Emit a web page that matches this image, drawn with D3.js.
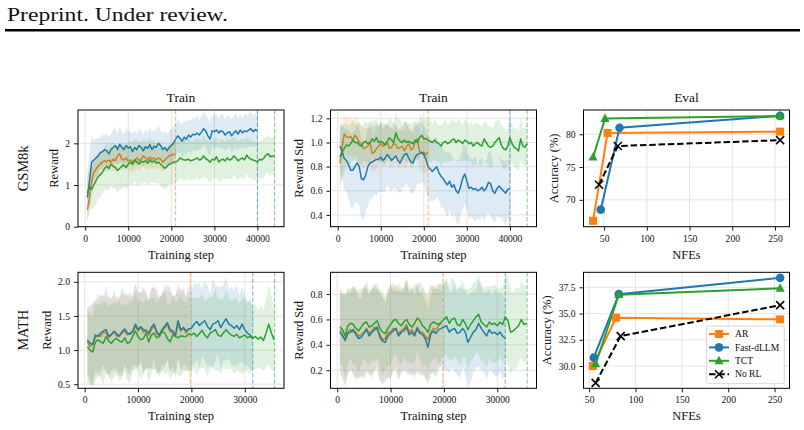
<!DOCTYPE html>
<html>
<head>
<meta charset="utf-8">
<script src="https://cdn.jsdelivr.net/npm/d3@7"></script>
<style>
  body { margin: 0; background: #fff; }
  svg { display: block; }
  text { font-family: "Liberation Serif", "Times New Roman", serif; fill: #111; }
</style>
</head>
<body>
<svg id="fig" width="804" height="430"></svg>
<script>
// training curves: one value every 500 steps, first point at step 500
const STEP = 500;
const START = 500;

// GSM8k, reward
const gsmRewardFast = [0.7,1.1,1.55,1.6,1.65,1.7,1.78,1.8,1.85,1.82,
  1.75,1.85,1.9,1.95,1.85,1.98,1.9,1.85,1.95,1.88,
  1.92,1.8,1.9,1.85,1.95,1.9,1.82,1.92,1.88,1.97,
  1.85,1.93,1.9,2.0,1.95,1.85,1.9,1.82,1.9,1.95,
  2.0,2.1,2.18,2.12,2.05,2.15,2.1,2.2,2.15,2.22,
  2.2,2.25,2.2,2.27,2.35,2.3,2.18,2.1,2.3,2.28,
  2.32,2.25,2.3,2.28,2.2,2.25,2.28,2.18,2.25,2.3,
  2.22,2.32,2.25,2.3,2.28,2.32,2.35,2.28,2.33,2.3];
const gsmRewardFastStd = [0.6,0.7,0.6,0.5,0.45,0.42,0.38,0.4,0.36,0.42,0.4,0.38,0.44,0.4,0.37,0.42,0.39,0.36,0.41,0.4,
  0.38,0.43,0.4,0.37,0.42,0.4,0.38,0.41,0.36,0.4,0.43,0.38,0.4,0.42,0.37,0.4,0.39,0.42,0.38,0.4,
  0.41,0.38,0.4,0.36,0.42,0.39,0.4,0.37,0.41,0.38,0.4,0.42,0.36,0.39,0.41,0.38,0.43,0.4,0.37,0.41,
  0.39,0.36,0.4,0.42,0.38,0.4,0.37,0.41,0.39,0.42,0.38,0.4,0.36,0.41,0.39,0.4,0.42,0.38,0.4,0.39];
const gsmRewardAR = [0.4,0.7,1.1,1.3,1.38,1.45,1.5,1.55,1.58,1.56,
  1.6,1.55,1.62,1.58,1.7,1.75,1.62,1.6,1.65,1.58,
  1.6,1.55,1.6,1.65,1.58,1.62,1.7,1.65,1.6,1.67,
  1.62,1.65,1.6,1.65,1.62,1.55,1.6,1.65,1.7,1.72,
  1.73,1.75];
const gsmRewardARStd = [0.3,0.35,0.35,0.3,0.28,0.27,0.25,0.26,0.24,0.27,0.25,0.23,0.26,0.25,0.24,0.27,0.25,0.23,0.26,0.24,
  0.25,0.27,0.24,0.26,0.25,0.23,0.26,0.24,0.25,0.27,0.24,0.26,0.23,0.25,0.26,0.24,0.25,0.23,0.26,0.24,0.25,0.24];
const gsmRewardTCT = [0.8,0.95,0.9,1.0,1.1,1.2,1.25,1.3,1.4,1.45,
  1.4,1.5,1.45,1.42,1.35,1.4,1.45,1.48,1.42,1.5,
  1.55,1.5,1.6,1.55,1.5,1.57,1.55,1.58,1.52,1.6,
  1.55,1.58,1.52,1.55,1.5,1.45,1.4,1.45,1.5,1.52,
  1.55,1.55,1.58,1.65,1.62,1.6,1.6,1.62,1.58,1.6,
  1.62,1.65,1.6,1.62,1.7,1.63,1.6,1.55,1.62,1.6,
  1.68,1.55,1.6,1.62,1.58,1.65,1.6,1.62,1.7,1.65,
  1.58,1.62,1.65,1.6,1.72,1.65,1.62,1.6,1.58,1.55,
  1.62,1.6,1.65,1.72,1.75,1.68,1.7,1.68];
const gsmRewardTCTStd = [0.4,0.45,0.5,0.55,0.55,0.52,0.55,0.5,0.53,0.55,0.5,0.52,0.55,0.5,0.53,0.5,0.55,0.52,0.5,0.54,
  0.5,0.53,0.5,0.55,0.52,0.5,0.53,0.5,0.52,0.55,0.5,0.52,0.48,0.5,0.53,0.5,0.52,0.5,0.48,0.5,
  0.52,0.5,0.47,0.5,0.48,0.52,0.46,0.5,0.48,0.45,0.5,0.47,0.49,0.45,0.5,0.48,0.46,0.5,0.47,0.45,
  0.49,0.46,0.5,0.47,0.44,0.48,0.46,0.5,0.45,0.47,0.49,0.45,0.48,0.46,0.44,0.48,0.45,0.47,0.46,0.43,
  0.47,0.45,0.48,0.44,0.46,0.45,0.43,0.45];

// GSM8k, reward std
const gsmStdFast = [0.97,0.93,0.87,0.85,0.82,0.77,0.77,0.8,0.83,0.8,
  0.7,0.69,0.73,0.8,0.83,0.84,0.85,0.86,0.86,0.88,
  0.85,0.87,0.9,0.88,0.85,0.87,0.89,0.85,0.83,0.87,
  0.9,0.91,0.87,0.84,0.83,0.88,0.9,0.91,0.92,0.9,
  0.86,0.8,0.78,0.76,0.78,0.8,0.75,0.72,0.7,0.67,
  0.65,0.68,0.63,0.65,0.6,0.58,0.63,0.7,0.74,0.68,
  0.62,0.63,0.61,0.62,0.6,0.61,0.63,0.6,0.62,0.67,
  0.66,0.6,0.58,0.62,0.64,0.62,0.6,0.58,0.61,0.62];
const gsmStdFastStd = [0.2,0.22,0.25,0.26,0.28,0.3,0.32,0.3,0.33,0.31,0.34,0.32,0.3,0.33,0.29,0.31,0.28,0.3,0.27,0.29,
  0.26,0.28,0.25,0.27,0.26,0.24,0.27,0.25,0.26,0.24,0.27,0.25,0.24,0.26,0.25,0.27,0.24,0.26,0.25,0.24,
  0.26,0.25,0.27,0.24,0.26,0.25,0.23,0.26,0.24,0.25,0.27,0.24,0.26,0.23,0.25,0.27,0.24,0.26,0.25,0.23,
  0.26,0.24,0.25,0.27,0.23,0.25,0.24,0.26,0.23,0.25,0.27,0.24,0.25,0.23,0.26,0.24,0.25,0.27,0.24,0.25];
const gsmStdAR = [0.83,0.95,1.07,1.05,1.04,1.05,1.02,1.06,1.04,1.0,
  0.98,0.95,0.96,0.97,1.0,0.91,0.92,0.95,0.97,0.99,
  0.97,0.98,1.0,0.95,0.96,0.99,0.98,0.95,0.96,0.97,
  0.93,0.97,0.99,0.94,0.95,1.01,1.03,0.93,0.91,0.92,
  0.9,0.92];
const gsmStdARStd = [0.23,0.2,0.16,0.15,0.17,0.16,0.15,0.17,0.16,0.18,0.15,0.17,0.16,0.15,0.17,0.16,0.15,0.18,0.16,0.15,
  0.17,0.16,0.15,0.17,0.16,0.18,0.15,0.16,0.17,0.15,0.16,0.18,0.15,0.17,0.16,0.15,0.17,0.16,0.15,0.16,0.17,0.15];
const gsmStdTCT = [0.88,0.92,0.95,0.98,0.97,0.99,1.02,1.0,1.0,0.98,
  0.97,1.0,1.01,0.99,1.0,1.03,1.01,1.04,1.0,1.01,
  1.0,0.98,1.01,1.04,1.02,1.0,1.08,1.03,1.01,1.0,
  1.02,1.0,1.01,1.0,0.99,1.02,1.0,1.04,1.06,1.03,
  1.03,1.02,1.01,1.0,1.02,1.0,0.99,0.97,1.0,1.01,
  0.99,1.0,1.02,1.03,1.0,1.02,1.01,0.99,1.02,1.01,
  0.99,1.0,0.97,0.99,1.0,0.98,0.97,1.03,1.0,0.97,
  0.96,0.97,1.0,1.02,1.04,0.98,0.95,0.94,0.97,1.04,
  0.99,0.96,0.95,0.93,1.03,0.97,0.96,0.99];
const gsmStdTCTStd = [0.25,0.22,0.2,0.18,0.17,0.16,0.17,0.15,0.16,0.18,0.16,0.15,0.17,0.16,0.18,0.15,0.17,0.16,0.15,0.17,
  0.16,0.18,0.15,0.17,0.16,0.15,0.17,0.16,0.18,0.15,0.16,0.17,0.15,0.16,0.18,0.16,0.15,0.17,0.16,0.15,
  0.17,0.16,0.18,0.15,0.17,0.16,0.15,0.17,0.16,0.18,0.15,0.16,0.17,0.15,0.16,0.18,0.16,0.15,0.17,0.16,
  0.15,0.17,0.16,0.18,0.15,0.17,0.16,0.15,0.17,0.16,0.18,0.15,0.16,0.17,0.15,0.16,0.18,0.16,0.15,0.17,
  0.16,0.15,0.17,0.16,0.18,0.15,0.16,0.17];

// MATH, reward
const mathRewardFast = [1.15,1.1,1.08,1.22,1.2,1.25,1.28,1.3,1.2,1.23,
  1.27,1.24,1.2,1.27,1.31,1.25,1.23,1.28,1.38,1.3,
  1.34,1.3,1.28,1.25,1.33,1.38,1.27,1.22,1.3,1.35,
  1.4,1.3,1.28,1.22,1.43,1.3,1.33,1.28,1.31,1.32,
  1.38,1.42,1.36,1.4,1.43,1.35,1.3,1.38,1.4,1.43,
  1.33,1.4,1.46,1.38,1.36,1.32,1.36,1.3,1.38,1.3,
  1.25,1.22,1.17];
const mathRewardFastStd = [0.5,0.55,0.6,0.5,0.62,0.55,0.5,0.65,0.55,0.52,0.6,0.5,0.58,0.65,0.52,0.55,0.62,0.5,0.6,0.55,
  0.5,0.62,0.56,0.5,0.6,0.52,0.63,0.55,0.5,0.6,0.55,0.62,0.5,0.58,0.52,0.6,0.55,0.5,0.62,0.56,
  0.6,0.55,0.62,0.5,0.58,0.6,0.52,0.65,0.55,0.5,0.6,0.55,0.62,0.5,0.58,0.55,0.6,0.5,0.55,0.52,
  0.48,0.5,0.45];
const mathRewardAR = [1.12,1.05,1.1,1.18,1.22,1.2,1.26,1.25,1.18,1.22,
  1.28,1.2,1.22,1.25,1.28,1.22,1.25,1.26,1.35,1.28,
  1.33,1.26,1.3,1.22,1.3,1.35,1.25,1.2,1.28,1.32,
  1.37,1.27,1.25,1.2,1.38,1.28,1.32,1.25,1.3];
const mathRewardARStd = [0.5,0.55,0.6,0.55,0.5,0.6,0.56,0.52,0.62,0.55,0.5,0.6,0.55,0.58,0.52,0.6,0.5,0.56,0.62,0.55,
  0.52,0.6,0.55,0.5,0.58,0.62,0.55,0.52,0.6,0.55,0.5,0.58,0.55,0.6,0.52,0.56,0.6,0.55,0.58];
const mathRewardTCT = [1.05,1.0,0.97,1.12,1.15,1.12,1.1,1.2,1.13,1.1,
  1.15,1.17,1.13,1.12,1.18,1.1,1.12,1.2,1.28,1.2,
  1.15,1.17,1.25,1.12,1.22,1.25,1.18,1.2,1.27,1.25,
  1.17,1.12,1.22,1.2,1.18,1.21,1.2,1.2,1.24,1.22,
  1.25,1.2,1.24,1.29,1.22,1.18,1.25,1.27,1.3,1.22,
  1.2,1.25,1.3,1.25,1.22,1.2,1.23,1.18,1.2,1.22,
  1.18,1.2,1.17,1.2,1.16,1.19,1.14,1.25,1.38,1.25,
  1.15];
const mathRewardTCTStd = [0.55,0.5,0.52,0.58,0.5,0.55,0.6,0.52,0.5,0.57,0.55,0.5,0.6,0.53,0.5,0.56,0.6,0.52,0.55,0.5,
  0.58,0.52,0.5,0.6,0.55,0.52,0.5,0.58,0.55,0.6,0.5,0.54,0.58,0.5,0.55,0.6,0.52,0.5,0.56,0.55,
  0.5,0.58,0.52,0.55,0.5,0.57,0.53,0.5,0.6,0.52,0.55,0.5,0.58,0.52,0.5,0.55,0.53,0.5,0.56,0.52,
  0.5,0.55,0.45,0.48,0.42,0.46,0.44,0.5,0.58,0.55,0.45];

// MATH, reward std
const mathStdFast = [0.5,0.47,0.44,0.49,0.5,0.52,0.48,0.45,0.46,0.49,
  0.52,0.47,0.5,0.52,0.54,0.46,0.43,0.42,0.47,0.49,
  0.51,0.53,0.47,0.5,0.51,0.54,0.48,0.5,0.47,0.53,
  0.49,0.48,0.45,0.38,0.48,0.51,0.49,0.52,0.53,0.54,
  0.55,0.5,0.52,0.53,0.49,0.5,0.53,0.5,0.42,0.46,
  0.5,0.52,0.57,0.53,0.5,0.47,0.52,0.49,0.5,0.48,
  0.5,0.47,0.45];
const mathStdFastStd = [0.3,0.33,0.35,0.32,0.3,0.34,0.36,0.32,0.3,0.35,0.33,0.31,0.36,0.32,0.3,0.34,0.35,0.31,0.33,0.36,
  0.32,0.3,0.35,0.33,0.31,0.36,0.32,0.34,0.3,0.35,0.33,0.31,0.3,0.3,0.3,0.33,0.35,0.32,0.3,0.34,
  0.35,0.32,0.3,0.34,0.33,0.36,0.31,0.33,0.37,0.35,0.32,0.3,0.34,0.33,0.31,0.35,0.32,0.3,0.34,0.33,
  0.31,0.33,0.3];
const mathStdAR = [0.52,0.48,0.43,0.5,0.52,0.5,0.5,0.47,0.48,0.5,
  0.53,0.49,0.51,0.54,0.52,0.48,0.44,0.45,0.5,0.5,
  0.53,0.52,0.49,0.51,0.53,0.56,0.5,0.52,0.48,0.54,
  0.5,0.5,0.47,0.44,0.5,0.53,0.52,0.55,0.57];
const mathStdARStd = [0.32,0.35,0.37,0.33,0.31,0.35,0.36,0.32,0.34,0.37,0.33,0.31,0.35,0.34,0.32,0.36,0.33,0.31,0.35,0.37,
  0.32,0.34,0.36,0.31,0.33,0.35,0.32,0.34,0.36,0.33,0.31,0.35,0.34,0.32,0.36,0.33,0.35,0.31,0.33];
const mathStdTCT = [0.54,0.52,0.47,0.55,0.57,0.56,0.53,0.51,0.54,0.57,
  0.58,0.54,0.55,0.57,0.59,0.53,0.5,0.49,0.53,0.56,
  0.59,0.6,0.57,0.55,0.58,0.6,0.56,0.54,0.57,0.61,
  0.59,0.55,0.53,0.5,0.56,0.58,0.57,0.56,0.58,0.6,
  0.62,0.57,0.6,0.61,0.56,0.55,0.6,0.57,0.52,0.56,
  0.59,0.62,0.64,0.58,0.56,0.54,0.58,0.56,0.57,0.55,
  0.58,0.56,0.62,0.59,0.5,0.51,0.53,0.55,0.6,0.56,
  0.57];
const mathStdTCTStd = [0.3,0.28,0.32,0.3,0.27,0.31,0.29,0.33,0.3,0.28,0.32,0.3,0.27,0.31,0.29,0.3,0.33,0.28,0.3,0.32,
  0.29,0.27,0.31,0.3,0.28,0.33,0.3,0.29,0.31,0.27,0.3,0.32,0.28,0.3,0.31,0.29,0.27,0.32,0.3,0.28,
  0.31,0.29,0.33,0.3,0.28,0.31,0.3,0.27,0.32,0.29,0.3,0.28,0.31,0.3,0.29,0.32,0.28,0.3,0.31,0.29,
  0.27,0.3,0.32,0.35,0.33,0.3,0.32,0.29,0.3,0.31,0.28];

// last training step of each run (dashed markers)
const gsmEnd = { ar: 21000, fast: 40000, tct: 44000 };
const mathEnd = { ar: 19800, fast: 31500, tct: 35600 };

// Eval: NFEs vs accuracy
const methods = ["AR", "Fast-dLLM", "TCT", "No RL"];
const gsmNfe = { "AR": [37, 54, 256], "Fast-dLLM": [46, 68, 256], "TCT": [37, 51, 256], "No RL": [44, 66, 256] };
const gsmAcc = { "AR": [66.8, 80.2, 80.4], "Fast-dLLM": [68.5, 81.0, 82.8], "TCT": [76.5, 82.4, 82.8], "No RL": [72.3, 78.2, 79.1] };
const mathNfe = { "AR": [54, 79, 256], "Fast-dLLM": [55, 82, 256], "TCT": [57, 82, 256], "No RL": [57, 84, 256] };
const mathAcc = { "AR": [30.0, 34.6, 34.45], "Fast-dLLM": [30.8, 36.85, 38.4], "TCT": [30.2, 36.8, 37.4], "No RL": [28.4, 32.85, 35.8] };

const trainStepTicks = [0, 10000, 20000, 30000, 40000];
const nfeTicks = [50, 100, 150, 200, 250];

const COL = { ar: "#ff7f0e", fast: "#1f77b4", tct: "#2ca02c" };
const EVAL_STYLE = {
  "AR": { color: COL.ar, marker: "square", dash: null },
  "Fast-dLLM": { color: COL.fast, marker: "circle", dash: null },
  "TCT": { color: COL.tct, marker: "triangle", dash: null },
  "No RL": { color: "#000", marker: "x", dash: "6.5,2.8" }
};

const svg = d3.select("#fig");

// page header
svg.append("text").attr("x", 7).attr("y", 21)
  .attr("textLength", 221).attr("lengthAdjust", "spacingAndGlyphs")
  .style("font-size", "19px").text("Preprint. Under review.");
svg.append("rect").attr("x", 5).attr("y", 29).attr("width", 795).attr("height", 2.5).attr("fill", "#000");

const COLX = [78, 330.5, 583.5];
const ROWY = [110, 272.3];
const PW = 206;
const PH = [116.7, 116];

let clipId = 0;
function panel(opt) {
  const g = svg.append("g").attr("transform", `translate(${opt.left},${opt.top})`);
  const x = d3.scaleLinear().domain(opt.xDomain).range([0, opt.w]);
  const y = d3.scaleLinear().domain(opt.yDomain).range([opt.h, 0]);

  // grid
  g.append("g").selectAll("line").data(opt.xTicks).join("line")
    .attr("x1", d => x(d)).attr("x2", d => x(d)).attr("y1", 0).attr("y2", opt.h)
    .attr("stroke", "#e4e4e4").attr("stroke-width", 1);
  g.append("g").selectAll("line").data(opt.yTicks).join("line")
    .attr("y1", d => y(d)).attr("y2", d => y(d)).attr("x1", 0).attr("x2", opt.w)
    .attr("stroke", "#e4e4e4").attr("stroke-width", 1);

  const id = "clip" + (clipId++);
  g.append("clipPath").attr("id", id).append("rect").attr("width", opt.w).attr("height", opt.h);
  const plot = g.append("g").attr("clip-path", `url(#${id})`);

  // axes
  const xa = g.append("g").attr("transform", `translate(0,${opt.h})`)
    .call(d3.axisBottom(x).tickValues(opt.xTicks).tickSize(4).tickPadding(4).tickFormat(d3.format("d")));
  const ya = g.append("g")
    .call(d3.axisLeft(y).tickValues(opt.yTicks).tickSize(4).tickPadding(4).tickFormat(opt.yFmt));
  [xa, ya].forEach(a => {
    a.attr("font-family", null).attr("font-size", null);
    a.select(".domain").remove();
    a.selectAll("line").attr("stroke", "#000").attr("stroke-width", 0.9);
    a.selectAll("text").style("font-size", "9.6px");
  });

  g.append("rect").attr("width", opt.w).attr("height", opt.h)
    .attr("fill", "none").attr("stroke", "#000").attr("stroke-width", 1);

  // labels
  let minX = 0;
  ya.selectAll("text").each(function () {
    const b = this.getBBox();
    minX = Math.min(minX, b.x);
  });
  g.append("text").attr("transform", `translate(${minX - 7.5},${opt.h / 2}) rotate(-90)`)
    .attr("text-anchor", "middle").style("font-size", "12.5px").text(opt.ylabel);
  g.append("text").attr("x", opt.w / 2).attr("y", opt.h + 32)
    .attr("text-anchor", "middle").style("font-size", "12.5px").text(opt.xlabel);
  if (opt.title) {
    g.append("text").attr("x", opt.w / 2).attr("y", -7.7)
      .attr("text-anchor", "middle").style("font-size", "13.5px").text(opt.title);
  }
  return { g, plot, x, y, w: opt.w, h: opt.h };
}

function runPoints(mean, std) {
  return mean.map((m, i) => ({ s: START + i * STEP, m: m, sd: std[i] }));
}

function trainPanel(p, runs, ends) {
  runs.forEach(r => {
    const pts = runPoints(r.mean, r.std);
    p.plot.append("path").datum(pts)
      .attr("d", d3.area().x(d => p.x(d.s)).y0(d => p.y(d.m - d.sd)).y1(d => p.y(d.m + d.sd)))
      .attr("fill", r.color).attr("fill-opacity", 0.15).attr("stroke", "none");
    p.plot.append("path").datum(pts)
      .attr("d", d3.line().x(d => p.x(d.s)).y(d => p.y(d.m)))
      .attr("fill", "none").attr("stroke", r.color).attr("stroke-width", 1.5)
      .attr("stroke-linejoin", "round");
  });
  runs.forEach(r => {
    p.plot.append("line")
      .attr("x1", p.x(ends[r.key])).attr("x2", p.x(ends[r.key]))
      .attr("y1", 0).attr("y2", p.h)
      .attr("stroke", r.color).attr("stroke-opacity", 0.6)
      .attr("stroke-width", 1).attr("stroke-dasharray", "4.4,1.9");
  });
}

function marker(sel, kind, color) {
  if (kind === "square") {
    sel.append("rect").attr("x", -4).attr("y", -4).attr("width", 8).attr("height", 8).attr("fill", color);
  } else if (kind === "circle") {
    sel.append("circle").attr("r", 4.3).attr("fill", color);
  } else if (kind === "triangle") {
    sel.append("path").attr("d", "M0,-5L4.6,3.4L-4.6,3.4Z").attr("fill", color);
  } else {
    sel.append("path").attr("d", "M-4,-4L4,4M-4,4L4,-4").attr("stroke", color)
      .attr("stroke-width", 1.6).attr("fill", "none");
  }
}

function evalPanel(p, nfe, acc) {
  methods.forEach(m => {
    const st = EVAL_STYLE[m];
    const pts = nfe[m].map((n, i) => [n, acc[m][i]]);
    p.plot.append("path").datum(pts)
      .attr("d", d3.line().x(d => p.x(d[0])).y(d => p.y(d[1])))
      .attr("fill", "none").attr("stroke", st.color).attr("stroke-width", 2)
      .attr("stroke-dasharray", st.dash);
    pts.forEach(d => {
      const mg = p.g.append("g").attr("transform", `translate(${p.x(d[0])},${p.y(d[1])})`);
      marker(mg, st.marker, st.color);
    });
  });
}

// row labels
[["GSM8k", 0], ["MATH", 1]].forEach(([t, r]) => {
  svg.append("text").attr("transform", `translate(28,${ROWY[r] + PH[r] / 2}) rotate(-90)`)
    .attr("text-anchor", "middle").style("font-size", "14.5px").text(t);
});

// GSM8k row
const pA = panel({ left: COLX[0], top: ROWY[0], w: PW, h: PH[0], xDomain: [-1675, 46175], yDomain: [0, 2.8],
  xTicks: trainStepTicks, yTicks: [0, 1, 2], yFmt: d3.format("d"), xlabel: "Training step", ylabel: "Reward", title: "Train" });
trainPanel(pA, [
  { key: "ar", color: COL.ar, mean: gsmRewardAR, std: gsmRewardARStd },
  { key: "fast", color: COL.fast, mean: gsmRewardFast, std: gsmRewardFastStd },
  { key: "tct", color: COL.tct, mean: gsmRewardTCT, std: gsmRewardTCTStd }
], gsmEnd);

const pB = panel({ left: COLX[1], top: ROWY[0], w: PW, h: PH[0], xDomain: [-1675, 46175], yDomain: [0.303, 1.269],
  xTicks: trainStepTicks, yTicks: [0.4, 0.6, 0.8, 1.0, 1.2], yFmt: d3.format(".1f"), xlabel: "Training step", ylabel: "Reward Std", title: "Train" });
trainPanel(pB, [
  { key: "ar", color: COL.ar, mean: gsmStdAR, std: gsmStdARStd },
  { key: "fast", color: COL.fast, mean: gsmStdFast, std: gsmStdFastStd },
  { key: "tct", color: COL.tct, mean: gsmStdTCT, std: gsmStdTCTStd }
], gsmEnd);

const pC = panel({ left: COLX[2], top: ROWY[0], w: PW, h: PH[0], xDomain: [25.8, 267], yDomain: [65.9, 83.7],
  xTicks: nfeTicks, yTicks: [70, 75, 80], yFmt: d3.format("d"), xlabel: "NFEs", ylabel: "Accuracy (%)", title: "Eval" });
evalPanel(pC, gsmNfe, gsmAcc);

// MATH row
const pD = panel({ left: COLX[0], top: ROWY[1], w: PW, h: PH[1], xDomain: [-1255, 37355], yDomain: [0.44, 2.14],
  xTicks: [0, 10000, 20000, 30000], yTicks: [0.5, 1.0, 1.5, 2.0], yFmt: d3.format(".1f"), xlabel: "Training step", ylabel: "Reward" });
trainPanel(pD, [
  { key: "ar", color: COL.ar, mean: mathRewardAR, std: mathRewardARStd },
  { key: "fast", color: COL.fast, mean: mathRewardFast, std: mathRewardFastStd },
  { key: "tct", color: COL.tct, mean: mathRewardTCT, std: mathRewardTCTStd }
], mathEnd);

const pE = panel({ left: COLX[1], top: ROWY[1], w: PW, h: PH[1], xDomain: [-1255, 37355], yDomain: [0.058, 0.971],
  xTicks: [0, 10000, 20000, 30000], yTicks: [0.2, 0.4, 0.6, 0.8], yFmt: d3.format(".1f"), xlabel: "Training step", ylabel: "Reward Std" });
trainPanel(pE, [
  { key: "ar", color: COL.ar, mean: mathStdAR, std: mathStdARStd },
  { key: "fast", color: COL.fast, mean: mathStdFast, std: mathStdFastStd },
  { key: "tct", color: COL.tct, mean: mathStdTCT, std: mathStdTCTStd }
], mathEnd);

const pF = panel({ left: COLX[2], top: ROWY[1], w: PW, h: PH[1], xDomain: [43.9, 266.1], yDomain: [27.88, 38.93],
  xTicks: nfeTicks, yTicks: [30.0, 32.5, 35.0, 37.5], yFmt: d3.format(".1f"), xlabel: "NFEs", ylabel: "Accuracy (%)" });
evalPanel(pF, mathNfe, mathAcc);

// legend
const lw = 77.6, lh = 57.7;
const leg = pF.g.append("g").attr("transform", `translate(${pF.w - 5.2 - lw},${pF.h - 4.6 - lh})`);
leg.append("rect").attr("width", lw).attr("height", lh).attr("rx", 2)
  .attr("fill", "#fff").attr("fill-opacity", 0.8).attr("stroke", "#cccccc").attr("stroke-width", 0.8);
methods.forEach((m, i) => {
  const st = EVAL_STYLE[m];
  const row = leg.append("g").attr("transform", `translate(0,${8 + i * 13.4})`);
  row.append("line").attr("x1", 2.3).attr("x2", 22.3).attr("stroke", st.color)
    .attr("stroke-width", 2).attr("stroke-dasharray", st.dash);
  marker(row.append("g").attr("transform", "translate(12.3,0)"), st.marker, st.color);
  row.append("text").attr("x", 28.3).attr("dy", "0.33em").style("font-size", "9.6px").text(m);
});
</script>
</body>
</html>
